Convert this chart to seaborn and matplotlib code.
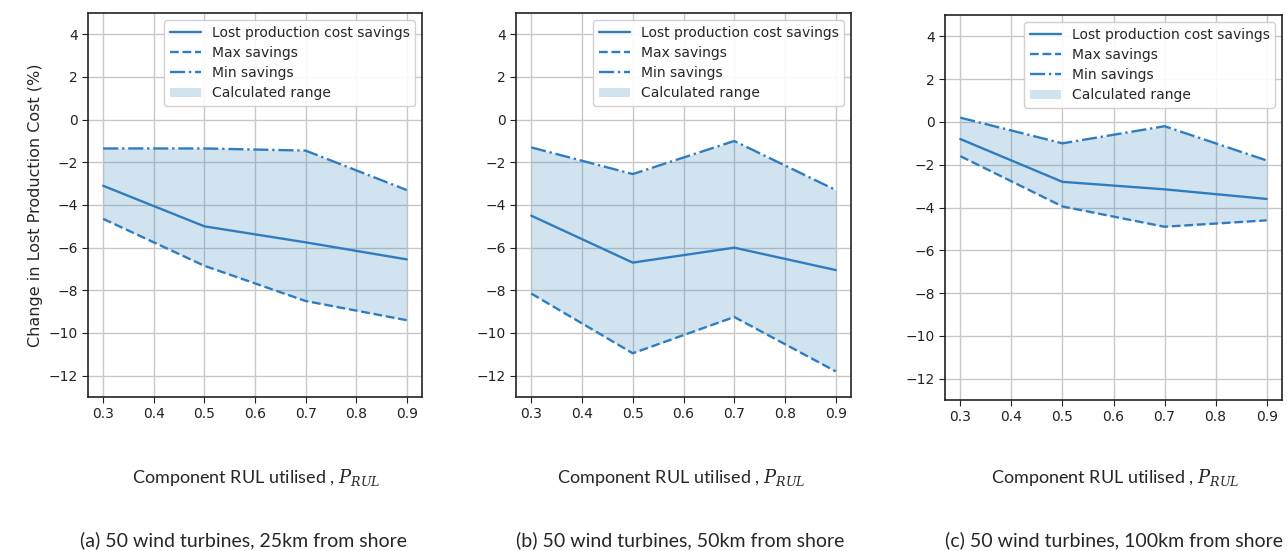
import matplotlib
matplotlib.use("Agg")
import matplotlib.pyplot as plt
import seaborn as sns
import pandas as pd

# Fraction of component remaining useful life used before replacement
p_rul = [0.3, 0.5, 0.7, 0.9]

# Change in lost production cost (%) for each wind-farm scenario
mean_a = [-3.1, -5.0, -5.75, -6.55]
max_a = [-4.65, -6.85, -8.5, -9.4]
min_a = [-1.35, -1.35, -1.45, -3.3]

mean_b = [-4.5, -6.7, -6.0, -7.05]
max_b = [-8.15, -10.95, -9.25, -11.8]
min_b = [-1.3, -2.55, -1.0, -3.3]

mean_c = [-0.8, -2.8, -3.15, -3.6]
max_c = [-1.6, -3.95, -4.9, -4.6]
min_c = [0.2, -1.0, -0.2, -1.8]

captions = [
    "(a) 50 wind turbines, 25km from shore",
    "(b) 50 wind turbines, 50km from shore",
    "(c) 50 wind turbines, 100km from shore",
]
y_ticks = [4, 2, 0, -2, -4, -6, -8, -10, -12]
x_ticks = [0.3, 0.4, 0.5, 0.6, 0.7, 0.8, 0.9]

sns.set_style("ticks", {"axes.edgecolor": "#222222", "axes.grid": True,
                        "grid.color": "#c8c8c8"})
plt.rcParams["font.family"] = ["DejaVu Sans"]
plt.rcParams["mathtext.fontset"] = "dejavuserif"

color = "#2f7dc0"
fig = plt.figure(figsize=(12.87, 5.51), dpi=100)

lefts = [88, 516, 945]
widths = [334, 335, 337]
label_cx = [256, 681, 1115]
caption_cx = [243, 680, 1114]
W, H = 1287, 551
scenarios = [(mean_a, max_a, min_a), (mean_b, max_b, min_b), (mean_c, max_c, min_c)]

for i, (mean_v, max_v, min_v) in enumerate(scenarios):
    top = 13 if i < 2 else 15
    bottom = 397 if i < 2 else 400
    ax = fig.add_axes([lefts[i] / W, 1 - bottom / H, widths[i] / W, (bottom - top) / H])
    df = pd.DataFrame({"p": p_rul, "mean": mean_v, "max": max_v, "min": min_v})
    sns.lineplot(data=df, x="p", y="mean", ax=ax, color=color, lw=1.7,
                 label="Lost production cost savings")
    sns.lineplot(data=df, x="p", y="max", ax=ax, color=color, lw=1.7,
                 linestyle="--", label="Max savings")
    sns.lineplot(data=df, x="p", y="min", ax=ax, color=color, lw=1.7,
                 linestyle="-.", label="Min savings")
    ax.fill_between(df["p"], df["max"], df["min"], color="#1f77b4", alpha=0.2,
                    lw=0, label="Calculated range")
    ax.set_ylim(-13, 5)
    ax.set_xlim(0.27, 0.93)
    ax.set_yticks(y_ticks)
    ax.set_xticks(x_ticks)
    ax.set_xticklabels([f"{v:.1f}" for v in x_ticks])
    ax.tick_params(labelsize=10, colors="#222222", length=4)
    ax.grid(True, color="#c8c8c8", lw=1)
    for s in ax.spines.values():
        s.set_visible(True)
        s.set_linewidth(1.2)
    ax.set_xlabel("")
    ax.set_ylabel("Change in Lost Production Cost (%)" if i == 0 else "", fontsize=11.5)
    ax.legend(loc="upper right", fontsize=10, frameon=True, framealpha=0.9,
              borderpad=0.4, handlelength=2.2, labelspacing=0.45)
    fig.text(label_cx[i] / W, 1 - 477 / H, r"Component RUL utilised , $P_{RUL}$",
             ha="center", va="center", fontsize=13, family="Lato")
    fig.text(caption_cx[i] / W, 1 - 540 / H, captions[i], ha="center", va="center",
             fontsize=14, family="Lato")

fig.savefig("out.png", dpi=100)
